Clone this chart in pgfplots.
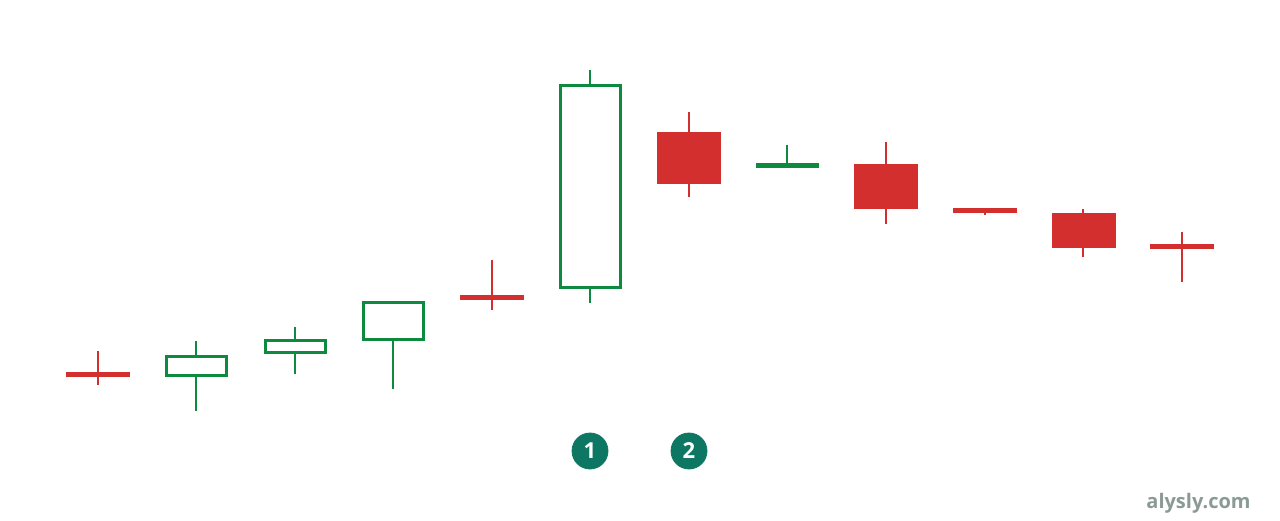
\documentclass[border=0pt]{standalone}
\usepackage{fontspec}
\setmainfont{Open Sans}
\usepackage{pgfplots}
\pgfplotsset{compat=1.18}
\definecolor{cred}{HTML}{D32F2F}
\definecolor{cgreen}{HTML}{0E8A3E}
\definecolor{badge}{HTML}{0D7763}
\definecolor{wm}{HTML}{8A9A95}
\newcommand\wick[4]{\addplot[#1, line width=1.3pt] coordinates {(#2,#3) (#2,#4)};}
\newcommand\hollow[4]{\addplot[draw=cgreen, fill=white, line width=1.5pt] coordinates {(#1,#3) (#2,#3) (#2,#4) (#1,#4)} -- cycle;}
\newcommand\filled[4]{\addplot[draw=none, fill=cred] coordinates {(#1,#3) (#2,#3) (#2,#4) (#1,#4)} -- cycle;}
\newcommand\doji[4]{\addplot[#1, line width=2.5pt] coordinates {(#2,#4) (#3,#4)};}
\begin{document}
\begin{tikzpicture}
\begin{axis}[
  scale only axis, width=640pt, height=260pt,
  xmin=0, xmax=1280, ymin=0, ymax=520,
  hide axis, clip=false,
]
\addplot[draw=none] coordinates {(0,0) (1280,520)};
% wicks (x, high, low)
\wick{cred}{98}{169}{135}
\wick{cgreen}{196}{179}{109}
\wick{cgreen}{295}{193}{146}
\wick{cgreen}{393}{219}{131}
\wick{cred}{492}{260}{210}
\wick{cgreen}{590}{450}{217}
\wick{cred}{689}{408}{323}
\wick{cgreen}{787}{375}{352}
\wick{cred}{886}{378}{296}
\wick{cred}{985}{312}{305}
\wick{cred}{1083}{311}{263}
\wick{cred}{1182}{288}{238}
% hollow green bodies (x left, x right, open, close)
\hollow{166}{226}{144.5}{163.5}
\hollow{265}{325}{167.5}{179.5}
\hollow{363}{423}{180.5}{217.5}
\hollow{560}{620}{232.5}{434.5}
% filled red bodies (x left, x right, open, close)
\filled{657}{721}{388}{336}
\filled{854}{918}{356}{311}
\filled{1052}{1116}{307}{272}
% doji bodies
\doji{cred}{66}{130}{146}
\doji{cred}{460}{524}{222}
\doji{cgreen}{756}{819}{354}
\doji{cred}{953}{1017}{309}
\doji{cred}{1150}{1214}{273}
% badges
\addplot[only marks, mark=*, mark size=9pt, color=badge,
  nodes near coords, point meta=explicit symbolic,
  every node near coord/.style={anchor=center, text=white, font=\bfseries\fontsize{11}{13}\selectfont}]
  coordinates {(590,69) [1] (689,69) [2]};
\node[anchor=east, text=wm, font=\bfseries\fontsize{10}{12}\selectfont, inner sep=0pt] at (axis cs:1251,17) {alysly.com};
\end{axis}
\end{tikzpicture}
\end{document}
